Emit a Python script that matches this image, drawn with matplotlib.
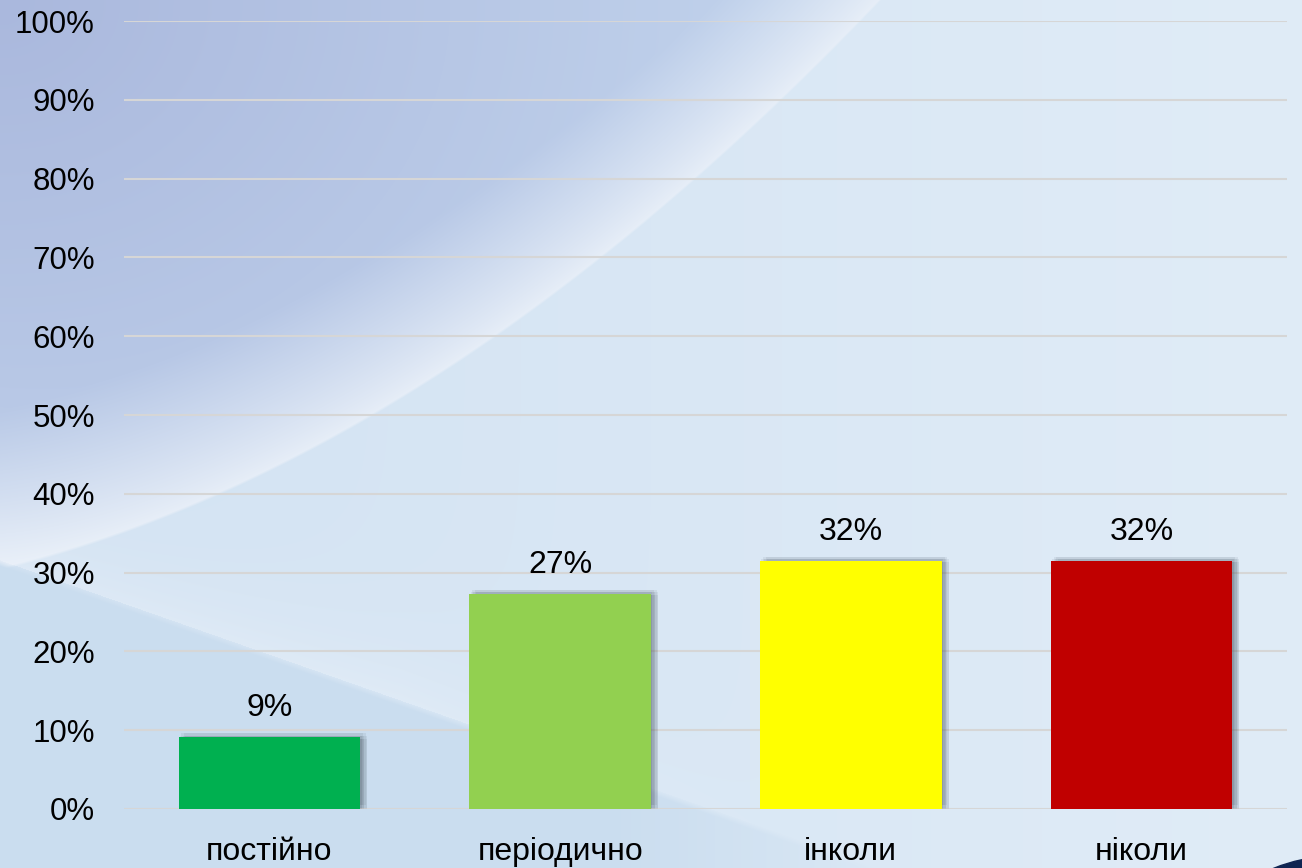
import matplotlib.pyplot as plt
import matplotlib.patheffects as pe
from matplotlib.patches import Ellipse
import numpy as np

categories = ['постійно', 'періодично', 'інколи', 'ніколи']
values = [9.1, 27.3, 31.5, 31.5]
value_labels = ['9%', '27%', '32%', '32%']
colors = ['#00b050', '#92d050', '#ffff00', '#c00000']
yticks = list(range(0, 101, 10))

plt.rcParams['font.family'] = ['Liberation Sans', 'DejaVu Sans']

W, H = 1302, 868
fig = plt.figure(figsize=(W / 100, H / 100), dpi=100)

# background picture (decoration only)
yy, xx = np.mgrid[0:H, 0:W].astype(float)
base_l = np.array([210, 226, 242]) / 255
base_r = np.array([224, 236, 247]) / 255
tx = np.clip(xx / W, 0, 1)[..., None]
img = base_l + (base_r - base_l) * tx

# upper-left region bounded by a curved edge
yc = 570 - 0.245 * xx - 4.57e-4 * xx ** 2
s = yc - yy
whiteish = np.array([232, 239, 248]) / 255
lav_a = np.array([170, 184, 221]) / 255
lav_b = np.array([196, 214, 238]) / 255
r = np.clip(np.hypot(xx, yy * 1.2) / 900, 0, 1)[..., None]
lav = lav_a + (lav_b - lav_a) * r
t = (np.clip(s / 160, 0, 1) ** 0.8)[..., None]
up = whiteish + (lav - whiteish) * t
m = np.clip(s / 3, 0, 1)[..., None]
img = img * (1 - m) + up * m

# lower-left wedge with a bright streak above it
yl = 560 + 0.35 * xx
s2 = yy - yl
wedge_c = np.array([202, 221, 239]) / 255
m2 = (np.clip(s2 / 6, 0, 1) * np.clip((900 - xx) / 300, 0, 1))[..., None]
img = img * (1 - m2) + wedge_c * m2
glow = (np.exp(-np.clip(-s2, 0, None) / 50) * (s2 < 0) * np.clip((800 - xx) / 400, 0, 1) * 0.35)[..., None]
img = img + (np.array([0.94, 0.96, 0.985]) - img) * glow
img = np.clip(img, 0, 1)

bg = fig.add_axes([0, 0, 1, 1], zorder=-1)
bg.imshow(img, aspect='auto', extent=[0, W, H, 0])
bg.add_patch(Ellipse((1345, 965), 300, 220, color='#0f2552'))
bg.set_xlim(0, W)
bg.set_ylim(H, 0)
bg.axis('off')

ax = fig.add_axes([124 / W, 1 - 809 / H, (1287 - 124) / W, (809 - 21) / H])
ax.set_facecolor('none')

# soft shadow built from several faint offset copies
shadow = []
for dx, dy in [(1, 1), (3, 1), (5, 1), (2, 3), (4, 3), (3, -1), (5, -1), (1, -1)]:
    shadow.append(pe.SimplePatchShadow(offset=(dx, dy), shadow_rgbFace='#4a5866', alpha=0.09))
shadow.append(pe.Normal())

x = np.arange(len(categories))
bars = ax.bar(x, values, width=0.625, color=colors, zorder=3)
for b in bars:
    b.set_path_effects(shadow)

for xi, v, lab in zip(x, values, value_labels):
    ax.annotate(lab, (xi, v), xytext=(0, 10), textcoords='offset points',
                ha='center', va='bottom', fontsize=23, color='black')

ax.set_xlim(-0.5, len(categories) - 0.5)
ax.set_ylim(0, 100)
ax.set_yticks(yticks)
ax.set_yticklabels([f'{v}%' for v in yticks])
ax.set_xticks(x)
ax.set_xticklabels(categories)
ax.tick_params(axis='both', length=0, colors='black')
ax.tick_params(axis='y', pad=21, labelsize=22.5)
ax.tick_params(axis='x', pad=20, labelsize=23)
ax.yaxis.grid(True, color='#d6d6d6', linewidth=1.5, zorder=0)
for s_ in ax.spines.values():
    s_.set_visible(False)

plt.savefig('out.png', dpi=100)
